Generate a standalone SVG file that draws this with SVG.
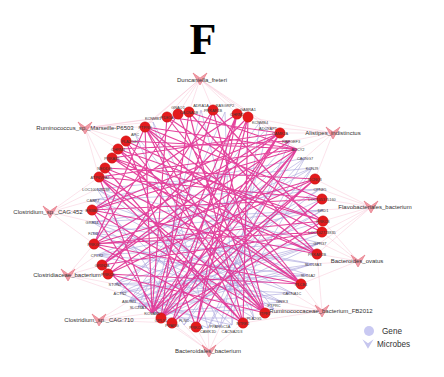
<svg xmlns="http://www.w3.org/2000/svg" width="444" height="377" viewBox="0 0 444 377">
<style>
.g{fill:#E41A1C;stroke:#C81416;stroke-width:0.4}
.lbl{font-family:"Liberation Sans",Arial,sans-serif;font-size:3.9px;fill:#3a3a3a;text-anchor:middle}
.ml{font-family:"Liberation Sans",Arial,sans-serif;font-size:6px;fill:#333;text-anchor:middle}
.mv{fill:#EE8E99;stroke:#E05466;stroke-width:0.6;opacity:0.85}
.mag{fill:none;stroke:#E02A8F;stroke-width:1.15;opacity:0.88}
.pur{fill:none;stroke:#A7A3DB;stroke-width:0.8;opacity:0.75}
.mic{fill:none;stroke:#F4B0C6;stroke-width:0.5;opacity:0.7}
.leg{font-family:"Liberation Sans",Arial,sans-serif;font-size:8.2px;fill:#333}
</style>
<defs>
<path id="vs" d="M-7,-6 L0,-1 L7,-6 L0,6 Z"/>
</defs>
<rect width="444" height="377" fill="#fff"/>
<text x="203" y="54" font-family="Liberation Serif,Times New Roman,serif" font-weight="bold" font-size="44" text-anchor="middle" fill="#000">F</text>
<g id="connectors">
<path class="mic" d="M200 79L145 127M200 79L167 117M200 79L178 114M200 79L189 112M200 79L213 110M200 79L237 114M200 79L248 117M200 79L280 133M200 79L297 149M200 79L135 134M85 128L145 127M85 128L126 141M85 128L118 149M85 128L167 117M85 128L153 122M85 128L99 177M85 128L105 168M85 128L213 110M333 133L280 133M333 133L290 141M333 133L297 149M333 133L305 158M333 133L315 179M333 133L248 117M333 133L268 127M371 207L322 199M371 207L323 210M371 207L323 221M371 207L322 232M371 207L315 179M371 207L320 189M371 207L320 243M371 207L317 254M358 261L317 254M358 261L313 264M358 261L301 284M358 261L322 232M358 261L320 243M358 261L323 221M322 311L265 313M322 311L274 309M322 311L282 302M322 311L301 284M322 311L243 323M322 311L292 293M322 311L317 254M209 351L196 327M209 351L208 328M209 351L220 327M209 351L184 325M209 351L243 323M209 351L172 323M209 351L161 318M99 320L152 313M99 320L138 307M99 320L161 318M99 320L129 301M99 320L172 323M68 275L108 274M68 275L102 265M68 275L94 244M68 275L115 284M68 275L97 255M68 275L120 293M50 212L92 210M50 212L93 200M50 212L92 222M50 212L94 244M50 212L97 189M50 212L99 177"/>
<path class="pur" d="M138 307L323 210M138 307L320 243M138 307L313 264M129 301L320 189M129 301L323 233M129 301L308 275M120 293L322 199M120 293L320 243M115 284L312 168M115 284L323 221M115 284L292 293M152 313L320 189M152 313L323 210M152 313L313 264M152 313L282 302M161 318L305 158M161 318L320 243M184 325L312 168M184 325L297 149M208 328L290 141M208 328L305 158M220 327L268 127M220 327L312 168M232 325L260 122M232 325L225 112M254 318L153 122M254 318L201 110M274 309L135 134M274 309L97 189M282 302L93 200M282 302L93 233M292 293L97 189M292 293L92 222M308 275L93 200M308 275L97 255M313 264L93 233M313 264L92 222M320 243L97 189M320 243L97 255M323 210L93 233M323 210L97 255M320 189L92 222M312 168L97 255M305 158L93 200M305 158L115 284M297 149L129 301M290 141L138 307M268 127L120 293M260 122L129 301M225 112L138 307M201 110L152 313M153 122L208 328M135 134L220 327M97 189L184 325M93 200L232 325M92 222L254 318M93 233L274 309M97 255L282 302M115 284L308 275M120 293L313 264M129 301L320 243M138 307L292 293M152 313L274 309M161 318L254 318M93 200L320 189M92 222L323 210M97 189L312 168M115 284L220 327M120 293L208 328M129 301L232 325"/>
<path class="mag" d="M145 127L265 313M145 127L243 323M145 127L317 254M145 127L322 199M145 127L301 284M145 127L152 313M167 117L152 313M167 117L301 284M167 117L323 221M178 114L265 313M178 114L94 244M189 112L161 318M189 112L317 254M213 110L152 313M213 110L108 274M213 110L322 232M237 114L152 313M237 114L92 210M237 114L196 327M248 117L161 318M248 117L102 265M248 117L243 323M280 133L152 313M280 133L94 244M280 133L172 323M280 133L112 158M297 149L152 313M297 149L161 318M297 149L99 177M297 149L92 210M297 149L108 274M297 149L196 327M297 149L126 141M290 141L102 265M290 141L118 149M315 179L94 244M315 179L105 168M315 179L161 318M315 179L152 313M322 199L92 210M322 199L99 177M322 199L172 323M323 221L94 244M323 221L112 158M323 221L118 149M322 232L102 265M322 232L126 141M317 254L92 210M317 254L105 168M301 284L94 244M301 284L99 177M301 284L112 158M265 313L92 210M265 313L118 149M265 313L99 177M265 313L213 110M243 323L94 244M243 323L105 168M243 323L189 112M196 327L126 141M196 327L248 117M172 323L237 114M161 318L280 133M161 318L323 221M108 274L315 179M102 265L280 133M92 210L280 133M94 244L322 232M99 177L243 323M126 141L265 313M118 149L301 284M112 158L317 254M145 127L94 244M92 210L161 318M99 177L152 313M167 117L280 133M189 112L297 149M145 127L297 149M108 274L265 313M94 244L243 323M108 274L301 284M102 265L152 313"/>
</g>
<g id="microbe-duncaniella"><use href="#vs" x="200" y="79" class="mv"/><text class="ml" x="202" y="82">Duncaniella_freteri</text></g>
<g id="microbe-ruminococcus"><use href="#vs" x="85" y="128" class="mv"/><text class="ml" x="85" y="130">Ruminococcus_sp._Marseille-P6503</text></g>
<g id="microbe-alistipes"><use href="#vs" x="333" y="133" class="mv"/><text class="ml" x="333" y="135">Alistipes_indistinctus</text></g>
<g id="microbe-flavobacteriales"><use href="#vs" x="371" y="207" class="mv"/><text class="ml" x="375" y="209">Flavobacteriales_bacterium</text></g>
<g id="microbe-bovatus"><use href="#vs" x="358" y="261" class="mv"/><text class="ml" x="357" y="263">Bacteroides_ovatus</text></g>
<g id="microbe-ruminococcaceae"><use href="#vs" x="322" y="311" class="mv"/><text class="ml" x="321" y="313">Ruminococcaceae_bacterium_FB2012</text></g>
<g id="microbe-bacteroidales"><use href="#vs" x="209" y="351" class="mv"/><text class="ml" x="208" y="353">Bacteroidales_bacterium</text></g>
<g id="microbe-cag710"><use href="#vs" x="99" y="320" class="mv" opacity="0.15"/><text class="ml" x="99" y="322">Clostridium_sp._CAG:710</text></g>
<g id="microbe-clostridiaceae"><use href="#vs" x="68" y="275" class="mv"/><text class="ml" x="67" y="277">Clostridiaceae_bacterium</text></g>
<g id="microbe-cag452"><use href="#vs" x="50" y="212" class="mv"/><text class="ml" x="48" y="214">Clostridium_sp._CAG:452</text></g>
<g id="n1"><circle class="g" cx="213" cy="110" r="5.2"/><text class="lbl" x="213" y="111.5">PRKAR1B</text></g>
<g id="n2"><text class="lbl" x="225" y="107">RASGRP2</text></g>
<g id="n3"><circle class="g" cx="237" cy="114" r="5.2"/><text class="lbl" x="237" y="115.5">CHRM1</text></g>
<g id="n4"><circle class="g" cx="248" cy="117" r="5.2"/><text class="lbl" x="248" y="111">GABRA1</text></g>
<g id="n5"><text class="lbl" x="260" y="123.5">KCNMB4</text></g>
<g id="n6"><text class="lbl" x="268" y="129.5">ADCYAP1</text></g>
<g id="n7"><circle class="g" cx="280" cy="133" r="5.2"/><text class="lbl" x="280" y="134.5">CAMK2A</text></g>
<g id="n8"><text class="lbl" x="291" y="142.5">RAPGEF3</text></g>
<g id="n9"><text class="lbl" x="298" y="150.5">ADCY2</text></g>
<g id="n10"><text class="lbl" x="305" y="159.5">CACNG7</text></g>
<g id="n11"><text class="lbl" x="312" y="169.5">KCNJ9</text></g>
<g id="n12"><circle class="g" cx="315" cy="179" r="5.2"/><text class="lbl" x="315" y="180.5">KCNQ3</text></g>
<g id="n13"><text class="lbl" x="320" y="190.5">CPNE5</text></g>
<g id="n14"><circle class="g" cx="322" cy="199" r="5.2"/><text class="lbl" x="322" y="200.5">LOC105375160</text></g>
<g id="n15"><text class="lbl" x="323" y="211.5">DRD1</text></g>
<g id="n16"><circle class="g" cx="323" cy="221" r="5.2"/><text class="lbl" x="323" y="222.5">PRKCB</text></g>
<g id="n17"><circle class="g" cx="322" cy="232" r="5.2"/><text class="lbl" x="322" y="233.5">LOC102723835</text></g>
<g id="n18"><text class="lbl" x="320" y="244.5">GPR37</text></g>
<g id="n19"><circle class="g" cx="317" cy="254" r="5.2"/><text class="lbl" x="317" y="255.5">PRKAR2B</text></g>
<g id="n20"><text class="lbl" x="313" y="265.5">SLC18A3</text></g>
<g id="n21"><text class="lbl" x="308" y="276.5">SLC6A2</text></g>
<g id="n22"><circle class="g" cx="301" cy="284" r="5.2"/><text class="lbl" x="301" y="285.5">PLCB4</text></g>
<g id="n23"><text class="lbl" x="292" y="294.5">CACNA1C</text></g>
<g id="n24"><text class="lbl" x="282" y="302.5">GRIK3</text></g>
<g id="n25"><text class="lbl" x="274" y="307">PTPRC</text></g>
<g id="n26"><circle class="g" cx="265" cy="313" r="5.2"/><text class="lbl" x="265" y="314.5">ITPR1</text></g>
<g id="n27"><text class="lbl" x="254" y="319.5">PLA2G5</text></g>
<g id="n28"><circle class="g" cx="243" cy="323" r="5.2"/><text class="lbl" x="243" y="324.5">NTRK2</text></g>
<g id="n29"><text class="lbl" x="232" y="333">CACNA2D3</text></g>
<g id="n30"><text class="lbl" x="220" y="327.5">PPARGC1A</text></g>
<g id="n31"><text class="lbl" x="208" y="333">CAMK1D</text></g>
<g id="n32"><circle class="g" cx="196" cy="327" r="5.2"/><text class="lbl" x="196" y="328.5">PRKCA</text></g>
<g id="n33"><text class="lbl" x="184" y="322">FLNC</text></g>
<g id="n34"><circle class="g" cx="172" cy="323" r="5.2"/><text class="lbl" x="172" y="327">PPARG</text></g>
<g id="n35"><circle class="g" cx="161" cy="318" r="5.2"/><text class="lbl" x="161" y="321.5">CPLX1</text></g>
<g id="n36"><text class="lbl" x="152" y="314.5">KCNAB1</text></g>
<g id="n37"><text class="lbl" x="138" y="308.5">SLC24A3</text></g>
<g id="n38"><text class="lbl" x="129" y="302.5">ABLIM3</text></g>
<g id="n39"><text class="lbl" x="120" y="294.5">ACTN2</text></g>
<g id="n40"><text class="lbl" x="115" y="285.5">STON2</text></g>
<g id="n41"><circle class="g" cx="108" cy="274" r="5.2"/><text class="lbl" x="108" y="275.5">PRKCE</text></g>
<g id="n42"><circle class="g" cx="102" cy="265" r="5.2"/><text class="lbl" x="102" y="266.5">GRIN2A</text></g>
<g id="n43"><text class="lbl" x="97" y="256.5">CPLX2</text></g>
<g id="n44"><circle class="g" cx="94" cy="244" r="5.2"/><text class="lbl" x="94" y="245.5">PRKG1</text></g>
<g id="n45"><text class="lbl" x="93" y="234.5">FZD3</text></g>
<g id="n46"><text class="lbl" x="92" y="223.5">GRB14</text></g>
<g id="n47"><circle class="g" cx="92" cy="210" r="5.2"/><text class="lbl" x="92" y="211.5">ERBB4</text></g>
<g id="n48"><text class="lbl" x="93" y="201.5">CABP7</text></g>
<g id="n49"><text class="lbl" x="96" y="190.5">LOC100128288</text></g>
<g id="n50"><circle class="g" cx="99" cy="177" r="5.2"/><text class="lbl" x="100" y="178.5">ATP6V0A2</text></g>
<g id="n51"><circle class="g" cx="105" cy="168" r="5.2"/><text class="lbl" x="105" y="169.5">NEDD4L</text></g>
<g id="n52"><circle class="g" cx="112" cy="158" r="5.2"/><text class="lbl" x="112" y="159.5">PRKAB1</text></g>
<g id="n53"><circle class="g" cx="118" cy="149" r="5.2"/><text class="lbl" x="118" y="150.5">CHRM4</text></g>
<g id="n54"><circle class="g" cx="126" cy="141" r="5.2"/><text class="lbl" x="130" y="142.5">PLA2G4C</text></g>
<g id="n55"><text class="lbl" x="135" y="135.5">APC</text></g>
<g id="n56"><circle class="g" cx="145" cy="127" r="5.2"/><text class="lbl" x="145" y="128.5">PTPRB</text></g>
<g id="n57"><text class="lbl" x="153" y="120">KCNMB1</text></g>
<g id="n58"><circle class="g" cx="167" cy="117" r="5.2"/><text class="lbl" x="167" y="118.5">PDE1A</text></g>
<g id="n59"><circle class="g" cx="178" cy="114" r="5.2"/><text class="lbl" x="178" y="109">GNAO1</text></g>
<g id="n60"><circle class="g" cx="189" cy="112" r="5.2"/><text class="lbl" x="189" y="113.5">CACNA1B</text></g>
<g id="n61"><text class="lbl" x="201" y="107">ADRA1A</text></g>
<g id="legend">
<circle cx="369" cy="331" r="5" fill="#C9C9F2"/>
<text class="leg" x="382" y="334">Gene</text>
<use href="#vs" fill="#C6C6EE" transform="translate(368 344) scale(0.8)"/>
<text class="leg" x="377" y="347">Microbes</text>
</g>
</svg>
